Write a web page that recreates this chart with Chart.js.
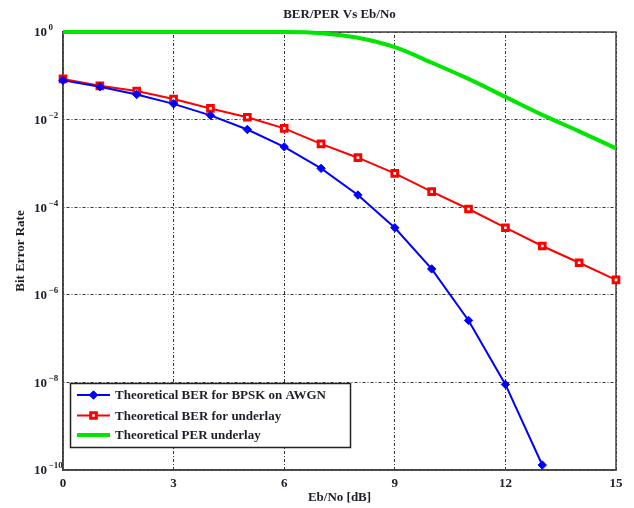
<!DOCTYPE html>
<html><head><meta charset="utf-8">
<script src="https://cdn.jsdelivr.net/npm/chart.js@4.4.0/dist/chart.umd.min.js"></script>
<style>html,body{margin:0;padding:0;background:#fff}#wrap{width:634px;height:508px}</style>
</head><body><div id="wrap"><canvas id="c" width="634" height="508"></canvas></div>
<script>
// ---- data ----
const ebno = [0,1,2,3,4,5,6,7,8,9,10,11,12,13,14,15];
const berBpsk = [0.0786,0.0563,0.0375,0.0229,0.0125,0.00595,0.00239,7.7e-4,1.9e-4,3.4e-5,3.9e-6,2.6e-7,9.0e-9,1.3e-10];
const berUnderlay = [0.085,0.059,0.045,0.0295,0.018,0.0113,0.0063,0.0028,0.00135,5.9e-4,2.26e-4,9.1e-5,3.4e-5,1.3e-5,5.4e-6,2.2e-6];
const perUnderlay = [1,1,1,1,1,1,0.998,0.94,0.74,0.45,0.2,0.085,0.033,0.0128,0.0054,0.0022];
const seriesLabels = ['Theoretical BER for BPSK on AWGN','Theoretical BER for underlay','Theoretical PER underlay'];
const xTicks = [0,3,6,9,12,15];
const yTickExponents = [0,-2,-4,-6,-8,-10];
const titleText = 'BER/PER Vs Eb/No';
const xTitle = 'Eb/No [dB]';
const yTitle = 'Bit Error Rate';

const FONT = "'Liberation Serif','Times New Roman',serif";
const TXT = '#1e1e2a';
const pts = (ys) => ys.map((y,i)=>({x: ebno[i], y}));

const titlePlugin = {
  id:'titlePlugin',
  afterDraw(chart){
    const {ctx, chartArea:a} = chart;
    ctx.save();
    ctx.font = 'bold 13px '+FONT; ctx.fillStyle = TXT;
    ctx.textAlign='center'; ctx.textBaseline='middle';
    ctx.fillText(titleText, (a.left+a.right)/2, 15);
    ctx.restore();
  }
};
const boxPlugin = {
  id:'boxPlugin',
  beforeDatasetsDraw(chart){
    const {ctx, chartArea:a} = chart;
    ctx.save(); ctx.strokeStyle='#444'; ctx.lineWidth=1.5;
    ctx.strokeRect(a.left, a.top, a.right-a.left, a.bottom-a.top);
    ctx.restore();
  }
};
const yLabelPlugin = {
  id:'yLabelPlugin',
  afterDraw(chart){
    const {ctx} = chart; const ys = chart.scales.y;
    ctx.save(); ctx.fillStyle = TXT;
    yTickExponents.forEach(e=>{
      const py = ys.getPixelForValue(Math.pow(10,e));
      ctx.font='bold 13px '+FONT; ctx.textAlign='right'; ctx.textBaseline='middle';
      ctx.fillText('10', 47, py+1);
      ctx.font='bold 9px '+FONT; ctx.textAlign='left';
      ctx.fillText(e===0?'0':'\u2212'+Math.abs(e), 48.5, py-4);
    });
    ctx.restore();
  }
};
const legendPlugin = {
  id:'legendPlugin',
  afterDraw(chart){
    const {ctx} = chart;
    const x0=70.5, y0=383.5, w=280, h=64;
    ctx.save();
    ctx.fillStyle='#fff'; ctx.fillRect(x0,y0,w,h);
    ctx.strokeStyle='#222'; ctx.lineWidth=1.5; ctx.strokeRect(x0,y0,w,h);
    const rows=[395,415.5,435];
    chart.data.datasets.forEach((ds,i)=>{
      const y=rows[i];
      ctx.strokeStyle=ds.borderColor; ctx.lineWidth=ds.borderWidth;
      ctx.beginPath(); ctx.moveTo(77,y); ctx.lineTo(110,y); ctx.stroke();
      if(ds.pointRadius>0){
        ctx.fillStyle=ds.pointBackgroundColor; ctx.strokeStyle=ds.borderColor; ctx.lineWidth=ds.pointBorderWidth||1;
        ctx.beginPath();
        if(ds.pointStyle==='rect'){const s=ds.pointRadius*Math.SQRT1_2; ctx.rect(93.5-s,y-s,2*s,2*s);} 
        else {const r=ds.pointRadius; ctx.moveTo(93.5,y-r);ctx.lineTo(93.5+r,y);ctx.lineTo(93.5,y+r);ctx.lineTo(93.5-r,y);ctx.closePath();}
        ctx.fill(); ctx.stroke();
      }
      ctx.font='bold 13px '+FONT; ctx.fillStyle=TXT; ctx.textAlign='left'; ctx.textBaseline='middle';
      ctx.fillText(ds.label,115,y+1);
    });
    ctx.restore();
  }
};

new Chart(document.getElementById('c'),{
  type:'line',
  data:{datasets:[
    {label:seriesLabels[0], data:pts(berBpsk), borderColor:'#0000ff', backgroundColor:'#0000ff', borderWidth:2,
     pointStyle:'rectRot', pointRadius:4.2, pointBackgroundColor:'#0000ff', pointBorderColor:'#0000ff', pointBorderWidth:1, tension:0, clip:false},
    {label:seriesLabels[1], data:pts(berUnderlay), borderColor:'#ff0000', backgroundColor:'#ff0000', borderWidth:2,
     pointStyle:'rect', pointRadius:4, pointBackgroundColor:'#ffffff', pointBorderColor:'#ff0000', pointBorderWidth:3, tension:0, clip:false},
    {label:seriesLabels[2], data:pts(perUnderlay), borderColor:'#00e600', backgroundColor:'#00e600', borderWidth:4,
     pointRadius:0, cubicInterpolationMode:'monotone', clip:false}
  ]},
  options:{
    responsive:false, animation:false, devicePixelRatio:1,
    layout:{padding:{top:32,right:18,left:0,bottom:0}},
    plugins:{legend:{display:false}, title:{display:false}, tooltip:{enabled:false}},
    scales:{
      x:{type:'linear', min:0, max:15,
        afterBuildTicks:s=>{s.ticks=xTicks.map(v=>({value:v}));},
        afterFit:s=>{s.height=38;},
        grid:{color:'#333', lineWidth:1, drawTicks:false},
        border:{display:true, color:'#444', width:1.5, dash:[1,2,3,2]},
        ticks:{font:{family:FONT,size:13,weight:'bold'}, color:TXT, padding:6, maxRotation:0},
        title:{display:true, text:xTitle, font:{family:FONT,size:13,weight:'bold'}, color:TXT, padding:{top:0,bottom:3}}
      },
      y:{type:'logarithmic', min:1e-10, max:1,
        afterBuildTicks:s=>{s.ticks=yTickExponents.map(e=>({value:Math.pow(10,e)}));},
        afterFit:s=>{s.width=63;},
        grid:{color:'#333', lineWidth:1, drawTicks:false},
        border:{display:true, color:'#444', width:1.5, dash:[1,2,3,2]},
        ticks:{display:false},
        title:{display:true, text:yTitle, font:{family:FONT,size:13,weight:'bold'}, color:TXT, padding:{top:13,bottom:0}}
      }
    }
  },
  plugins:[titlePlugin, boxPlugin, yLabelPlugin, legendPlugin]
});
</script></body></html>
